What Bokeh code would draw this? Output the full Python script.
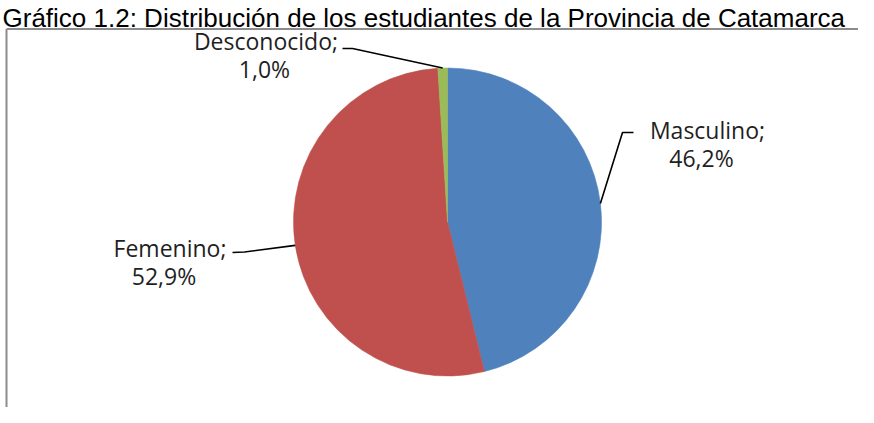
import numpy as np
from bokeh.plotting import figure
from bokeh.models import Range1d, ColumnDataSource
from bokeh.embed import file_html
from bokeh.resources import INLINE
from bokeh.core.properties import value

# ---- data ----
title_text = "Gráfico 1.2: Distribución de los estudiantes de la Provincia de Catamarca"
categories = ["Masculino", "Femenino", "Desconocido"]
percents = [46.2, 52.9, 1.0]
colors = ["#4F81BD", "#C0504D", "#9BBB59"]

# ---- layout (picture pixel coordinates; y is negated so it grows downward) ----
W, H = 858, 407
TEXT_DY = 6  # rendered baseline sits lower than requested; compensate
p = figure(width=W, height=H, x_range=Range1d(0, W), y_range=Range1d(-H, 0),
           output_backend="svg", toolbar_location=None, min_border=0,
           x_axis_location=None, y_axis_location=None)
p.grid.visible = False
p.outline_line_color = None
p.background_fill_color = "white"
p.border_fill_color = "white"

# chart border (top and left visible, the rest runs off the picture)
border_y = 28.5
border_x = 6
p.line([border_x, W + 5], [-border_y, -border_y], line_color="#8c8c8c", line_width=2)
p.line([border_x, border_x], [-border_y, -(H + 5)], line_color="#8c8c8c", line_width=2)

# title
p.text(x=[2], y=[-(23.5 - TEXT_DY)], text=[title_text], text_font=value("Liberation Sans"),
       text_font_size="26px", text_color="#000000", text_align="left",
       text_baseline="alphabetic")

# pie
cx, cy, r = 447, -221.5, 154
vals = np.array(percents, dtype=float)
frac = vals / vals.sum()
cum = np.concatenate([[0.0], np.cumsum(frac)])
start = np.pi / 2 - 2 * np.pi * cum[:-1]
end = np.pi / 2 - 2 * np.pi * cum[1:]
src = ColumnDataSource(dict(start=start, end=end, color=colors, cat=categories))
p.wedge(x=cx, y=cy, radius=r, start_angle="start", end_angle="end", direction="clock",
        fill_color="color", line_color="color", line_width=0.6, source=src)

# leader lines: start at the middle of each slice's arc
mid = (start + end) / 2
ex = cx + r * np.cos(mid)
ey = cy + r * np.sin(mid)
elbows = {"Masculino": [(622, 132), (633, 132)],
          "Femenino": [(244, 251.5), (232, 252)],
          "Desconocido": [(352, 48), (342, 48)]}
xs, ys = [], []
for i, c in enumerate(categories):
    pts = elbows[c]
    xs.append([ex[i]] + [q[0] for q in pts])
    ys.append([ey[i]] + [-q[1] for q in pts])
p.multi_line(xs=xs, ys=ys, line_color="#000000", line_width=1.6)

# labels
label_pos = {"Masculino": ((707, 135), (701, 163)),
             "Femenino": ((169.5, 253), (163.5, 281)),
             "Desconocido": ((265.5, 46), (264, 74))}
lx, ly, lt = [], [], []
for c, v in zip(categories, percents):
    (x1, y1), (x2, y2) = label_pos[c]
    lx += [x1, x2]
    ly += [-(y1 - TEXT_DY), -(y2 - TEXT_DY)]
    lt += [f"{c};", f"{v:.1f}%".replace(".", ",")]
p.text(x=lx, y=ly, text=lt, text_font=value("Open Sans"), text_font_size="23px",
       text_color="#1f1f1f", text_align="center", text_baseline="alphabetic")

open("out.html", "w").write(file_html(p, INLINE))
